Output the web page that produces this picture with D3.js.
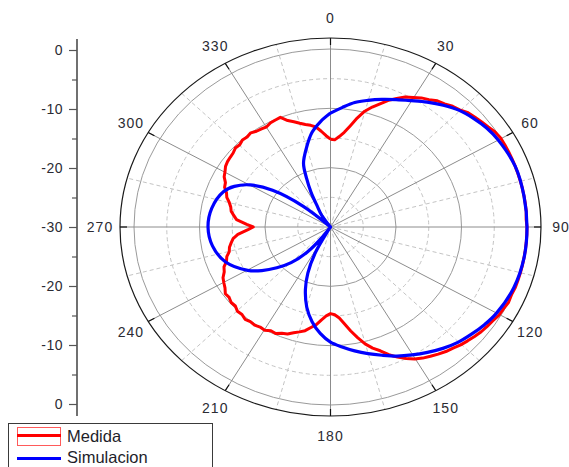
<!DOCTYPE html>
<html>
<head>
<meta charset="utf-8">
<script src="https://cdn.jsdelivr.net/npm/d3@7"></script>
<style>
  html, body { margin: 0; padding: 0; background: #fff; }
  svg { display: block; }
  text { font-family: "Liberation Sans", Arial, sans-serif; }
</style>
</head>
<body>
<svg id="chart" width="569" height="467"></svg>
<script>
// ---------------- data ----------------
const angleTicks = [0, 30, 60, 90, 120, 150, 180, 210, 240, 270, 300, 330];
const radialTicks = [0, 10, 20, 30, 40, 50, 60];          // mirrored left axis positions
const radialTickLabels = ["0", "-10", "-20", "-30", "-20", "-10", "0"];
const seriesNames = ["Medida", "Simulacion"];

const redAngles = [0, 2.5, 5, 7.5, 10, 12.5, 15, 17.5, 20, 22.5, 25, 27.5, 30, 32.5, 35, 37.5,
  40, 42.5, 45, 47.5, 50, 52.5, 55, 57.5, 60, 62.5, 65, 67.5, 70, 72.5, 75, 77.5, 80, 82.5,
  85, 87.5, 90, 92.5, 95, 97.5, 100, 102.5, 105, 107.5, 110, 112.5, 115, 117.5, 120, 122.5,
  125, 127.5, 130, 132.5, 135, 137.5, 140, 142.5, 145, 147.5, 150, 152.5, 155, 157.5, 160,
  162.5, 165, 167.5, 170, 172.5, 175, 177.5, 180, 182.5, 185, 187.5, 190, 192.5, 195, 197.5,
  200, 202.5, 205, 207.5, 210, 212.5, 215, 217.5, 220, 222.5, 225, 227.5, 230, 232.5, 235,
  237.5, 240, 242.5, 245, 247.5, 250, 252.5, 255, 257.5, 260, 262.5, 265, 268, 270, 272, 275,
  277.5, 280, 282.5, 285, 287.5, 290, 292.5, 295, 297.5, 300, 302.5, 305, 307.5, 310, 312.5,
  315, 317.5, 320, 322.5, 325, 327.5, 330, 332.5, 335, 337.5, 340, 342.5, 345, 347.5, 350,
  352.5, 355, 357.5, 360];
const redValues = [-15.2, -15.3, -14.7, -13.9, -12.7, -11.2, -9.8, -8.8, -7.9, -6.9, -6.1, -5.3,
  -4.8, -4.2, -3.8, -3.2, -2.9, -2.4, -2.1, -1.5, -1.2, -0.9, -0.6, -0.2, 0.0, 0.3, 0.4, 0.3,
  0.5, 0.4, 0.4, 0.2, 0.3, 0.1, 0.2, -0.1, 0.0, 0.3, 0.2, 0.4, 0.3, 0.2, 0.1, 0.2, 0.1, -0.1,
  0.0, -0.2, -0.3, -0.6, -0.8, -1.0, -1.3, -1.6, -1.9, -2.3, -2.6, -3.0, -3.4, -3.8, -4.3,
  -5.0, -5.8, -6.7, -7.8, -8.6, -9.6, -10.9, -12.2, -13.5, -14.6, -15.2, -15.4, -15.0, -14.3,
  -13.4, -12.8, -12.1, -11.7, -11.3, -10.8, -10.6, -10.2, -10.3, -9.9, -10.0, -9.8, -9.9,
  -9.7, -10.0, -9.9, -10.3, -10.2, -10.5, -10.4, -10.9, -11.2, -11.5, -12.1, -12.4, -13.1,
  -13.4, -14.0, -14.2, -14.6, -15.0, -15.8, -17.4, -18.2, -17.2, -15.6, -15.1, -14.6, -14.4,
  -14.0, -13.4, -13.1, -12.5, -12.3, -11.7, -11.4, -11.0, -10.8, -10.7, -10.6, -10.3, -10.4,
  -10.1, -10.2, -10.0, -10.3, -10.4, -10.5, -10.2, -10.1, -10.0, -10.9, -11.4, -11.9, -12.3,
  -12.6, -13.0, -13.8, -14.6, -15.2];

const blueAngles = [0, 5, 10, 15, 20, 25, 30, 35, 40, 45, 50, 55, 60, 70, 80, 90, 100, 110, 120,
  125, 130, 135, 140, 145, 150, 155, 160, 165, 170, 175, 180, 185, 190, 195, 200, 204, 208, 211,
  213, 216, 220, 225, 230, 235, 240, 250, 260, 270, 280, 290, 295, 300, 305, 310, 314, 318, 322,
  326, 330, 333, 336, 339, 345, 350, 355, 360];
const blueValues = [-10.8, -9.8, -8.7, -7.9, -7.1, -6.3, -5.4, -4.3, -3.2, -2.2, -1.5, -0.9, -0.5,
  0.0, 0.2, 0.3, 0.1, -0.2, -0.8, -1.3, -1.9, -2.5, -3.3, -4.2, -5.1, -6.0, -7.0, -7.9, -8.8,
  -9.7, -10.6, -12.0, -13.8, -16.0, -18.8, -21.5, -25.0, -29.0, -33.0, -28.0, -24.5, -21.5,
  -19.3, -17.2, -15.4, -12.9, -11.7, -11.3, -11.6, -12.6, -13.8, -15.8, -19.2, -24.5, -30.0,
  -33.0, -30.0, -27.5, -26.0, -23.5, -21.0, -18.5, -16.0, -13.8, -12.2, -10.8];

// ---------------- layout ----------------
const cx = 330.5, cy = 227;
const RX = 196.5, RY = 178;        // 0 dB circle (ellipse on screen)
const ORX = 210.5, ORY = 189;      // outer frame ring
const svg = d3.select("#chart");

const r = d3.scaleLinear().domain([-30, 0]).range([0, 1]).clamp(true);
const ang = d3.scaleLinear().domain([0, 360]).range([0, 2 * Math.PI]);

const px = (deg, f, rx) => cx + f * rx * Math.sin(ang(deg));
const py = (deg, f, ry) => cy - f * ry * Math.cos(ang(deg));

const g = svg.append("g");

// grid circles
[-25, -20, -15, -10, -5, 0].forEach(v => {
  const solid = v % 10 === 0;
  g.append("ellipse")
    .attr("cx", cx).attr("cy", cy)
    .attr("rx", r(v) * RX).attr("ry", r(v) * RY)
    .attr("fill", "none")
    .attr("stroke", solid ? "#9a9a9a" : "#c4c4c4")
    .attr("stroke-width", 1)
    .attr("stroke-dasharray", solid ? null : "4,3");
});

// spokes
d3.range(0, 360, 15).forEach(a => {
  const major = a % 30 === 0;
  g.append("line")
    .attr("x1", cx).attr("y1", cy)
    .attr("x2", px(a, 1, ORX)).attr("y2", py(a, 1, ORY))
    .attr("stroke", major ? "#8c8c8c" : "#c4c4c4")
    .attr("stroke-width", 1)
    .attr("stroke-dasharray", major ? null : "4,3");
});

// outer ring
g.append("ellipse")
  .attr("cx", cx).attr("cy", cy).attr("rx", ORX).attr("ry", ORY)
  .attr("fill", "none").attr("stroke", "#1a1a1a").attr("stroke-width", 1.2);

// major ticks on the ring (inward)
angleTicks.forEach(a => {
  const k = 7;
  const f2 = 1 - k / Math.hypot(ORX * Math.sin(ang(a)), ORY * Math.cos(ang(a)));
  g.append("line")
    .attr("x1", px(a, 1, ORX)).attr("y1", py(a, 1, ORY))
    .attr("x2", px(a, f2, ORX)).attr("y2", py(a, f2, ORY))
    .attr("stroke", "#111").attr("stroke-width", 1.2);
});

// angle labels
g.selectAll("text.ang").data(angleTicks).enter().append("text")
  .attr("class", "ang")
  .attr("x", d => px(d, 1, ORX + 20))
  .attr("y", d => py(d, 1, ORY + 20))
  .attr("text-anchor", "middle")
  .attr("dominant-baseline", "central")
  .attr("font-size", 14)
  .attr("letter-spacing", 1)
  .attr("fill", "#2b2b33")
  .text(d => d);

// data lines
const line = d3.line()
  .x(d => px(d[0], r(d[1]), RX))
  .y(d => py(d[0], r(d[1]), RY))
  .curve(d3.curveLinear);

const redData = redAngles.map((a, i) => [a, redValues[i]]);
const blueData = blueAngles.map((a, i) => [a, blueValues[i]]);

g.append("path").datum(redData)
  .attr("d", line).attr("fill", "none")
  .attr("stroke", "#ff0000").attr("stroke-width", 3).attr("stroke-linejoin", "round");
g.append("path").datum(blueData)
  .attr("d", d3.line().x(d => px(d[0], r(d[1]), RX)).y(d => py(d[0], r(d[1]), RY)).curve(d3.curveCatmullRom))
  .attr("fill", "none")
  .attr("stroke", "#0000ff").attr("stroke-width", 3.2).attr("stroke-linejoin", "round");

// left radial axis (mirrored)
const yAx = d3.scaleLinear().domain([0, 60]).range([cy - RY + 1, cy + RY - 1]);
svg.append("line")
  .attr("x1", 77).attr("x2", 77).attr("y1", cy - ORY + 1).attr("y2", cy + ORY)
  .attr("stroke", "#111").attr("stroke-width", 1.2);

const axMajor = d3.axisLeft(yAx).tickValues(radialTicks).tickSize(8).tickPadding(6)
  .tickFormat((d, i) => radialTickLabels[i]);
const axG = svg.append("g").attr("transform", "translate(77,0)").call(axMajor);
axG.select(".domain").remove();
axG.selectAll(".tick line").attr("stroke", "#555").attr("stroke-width", 1.2);
axG.selectAll(".tick text").attr("font-size", 14).attr("letter-spacing", 0.5)
  .attr("fill", "#2b2b33").attr("font-family", "Liberation Sans, Arial, sans-serif");

const axMinor = d3.axisLeft(yAx).tickValues([5, 15, 25, 35, 45, 55]).tickSize(5).tickFormat("");
const axG2 = svg.append("g").attr("transform", "translate(77,0)").call(axMinor);
axG2.select(".domain").remove();
axG2.selectAll(".tick line").attr("stroke", "#555").attr("stroke-width", 1.2);

// legend
const lg = svg.append("g");
lg.append("rect").attr("x", 8.5).attr("y", 423.5).attr("width", 204).attr("height", 60)
  .attr("fill", "#fff").attr("stroke", "#3a3a3a").attr("stroke-width", 1);
lg.append("rect").attr("x", 17.5).attr("y", 427.5).attr("width", 43).attr("height", 18)
  .attr("fill", "none").attr("stroke", "#ff5a5a").attr("stroke-width", 1);
lg.append("line").attr("x1", 17).attr("x2", 61).attr("y1", 435.5).attr("y2", 435.5)
  .attr("stroke", "#ff0000").attr("stroke-width", 3);
lg.append("line").attr("x1", 17).attr("x2", 61).attr("y1", 458.5).attr("y2", 458.5)
  .attr("stroke", "#0000ff").attr("stroke-width", 3);
lg.selectAll("text.leg").data(seriesNames).enter().append("text")
  .attr("class", "leg")
  .attr("x", 67).attr("y", (d, i) => 442 + i * 20.5)
  .attr("font-size", 16.5).attr("fill", "#1e1e2a")
  .text(d => d);
</script>
</body>
</html>
